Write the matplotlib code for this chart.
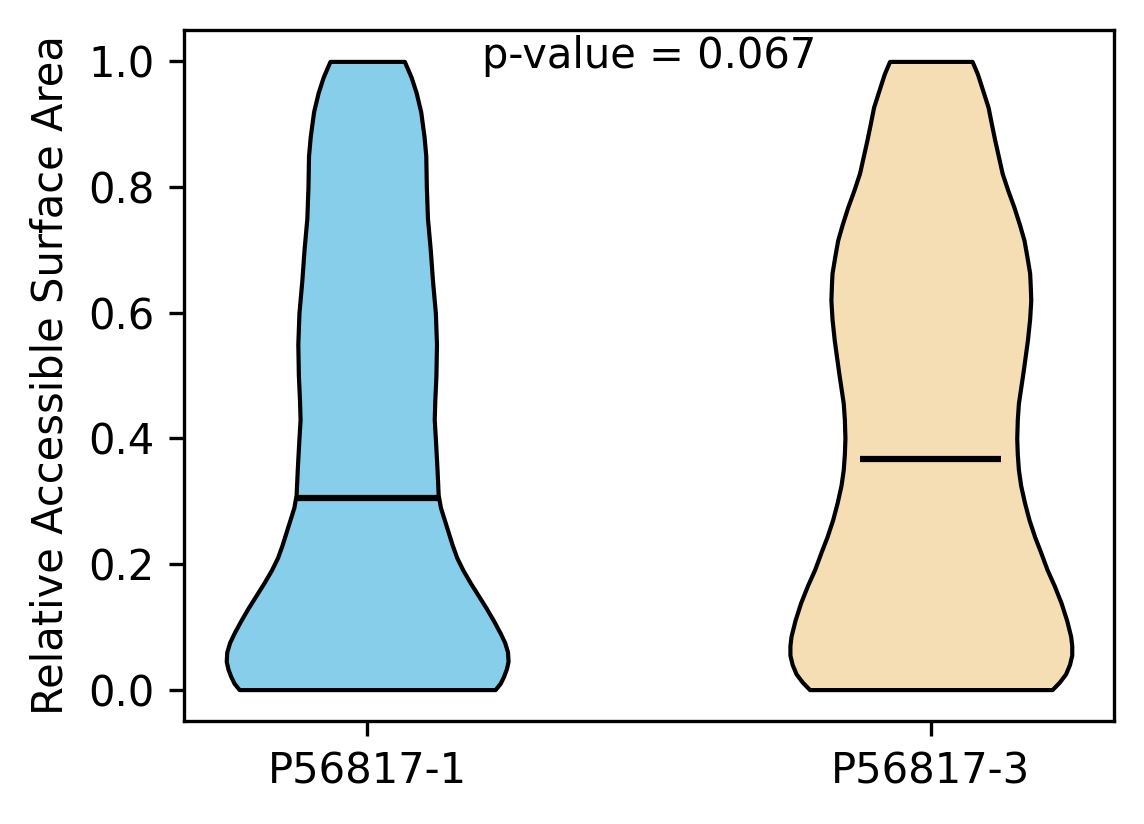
import matplotlib
matplotlib.use("Agg")
import matplotlib.pyplot as plt
import numpy as np

# Groups and summary values
labels = ["P56817-1", "P56817-3"]
colors = ["skyblue", "wheat"]
means = [0.305, 0.367]
p_value = 0.067

# Density profile (RSA level, relative half-width)
rsa_1 = [0.0, 0.01, 0.021, 0.033, 0.045, 0.06, 0.075, 0.09, 0.11, 0.13,
         0.15, 0.17, 0.19, 0.21, 0.23, 0.25, 0.27, 0.29, 0.31, 0.35,
         0.40, 0.43, 0.46, 0.50, 0.55, 0.60, 0.65, 0.70, 0.75, 0.80,
         0.85, 0.88, 0.92, 0.95, 0.975, 1.0]
dens_1 = [0.227, 0.236, 0.242, 0.247, 0.250, 0.249, 0.244, 0.236, 0.224, 0.211,
          0.197, 0.183, 0.170, 0.159, 0.151, 0.144, 0.137, 0.130, 0.126, 0.124,
          0.121, 0.119, 0.120, 0.122, 0.123, 0.121, 0.116, 0.112, 0.107, 0.105,
          0.104, 0.101, 0.095, 0.087, 0.078, 0.066]

rsa_2 = [0.0, 0.012, 0.025, 0.04, 0.055, 0.07, 0.085, 0.11, 0.138, 0.165,
         0.191, 0.22, 0.243, 0.27, 0.297, 0.325, 0.35, 0.375, 0.40, 0.43,
         0.456, 0.48, 0.504, 0.53, 0.556, 0.59, 0.62, 0.645, 0.663, 0.69,
         0.715, 0.74, 0.768, 0.795, 0.822, 0.85, 0.874, 0.90, 0.927, 0.955,
         0.98, 1.0]
dens_2 = [0.216, 0.229, 0.240, 0.247, 0.251, 0.251, 0.249, 0.242, 0.232, 0.220,
          0.207, 0.195, 0.185, 0.175, 0.167, 0.160, 0.156, 0.154, 0.153, 0.154,
          0.156, 0.160, 0.164, 0.168, 0.172, 0.176, 0.178, 0.177, 0.176, 0.171,
          0.166, 0.158, 0.148, 0.137, 0.127, 0.120, 0.114, 0.108, 0.102, 0.092,
          0.083, 0.0735]

stats = []
for rsa, dens, m in [(rsa_1, dens_1, means[0]), (rsa_2, dens_2, means[1])]:
    stats.append({
        "coords": np.array(rsa),
        "vals": np.array(dens),
        "mean": m,
        "median": m,
        "min": min(rsa),
        "max": max(rsa),
    })

fig = plt.figure(figsize=(11.44 / 3, 8.24 / 3), dpi=300)
ax = fig.add_axes([0.1608, 0.125, 0.813, 0.8386])

parts = ax.violin(stats, positions=[1, 2], widths=0.5,
                  showmeans=True, showextrema=False, showmedians=False)
for body, c in zip(parts["bodies"], colors):
    body.set_facecolor(c)
    body.set_edgecolor("black")
    body.set_linewidth(1)
    body.set_alpha(1)
parts["cmeans"].set_color("black")
parts["cmeans"].set_linewidth(1.5)

ax.set_xticks([1, 2])
ax.set_xticklabels(labels)
ax.set_ylabel("Relative Accessible Surface Area")
ax.text(1.5, 0.99, f"p-value = {p_value:.3f}", ha="center", va="baseline")

fig.savefig("out.png", dpi=300)
